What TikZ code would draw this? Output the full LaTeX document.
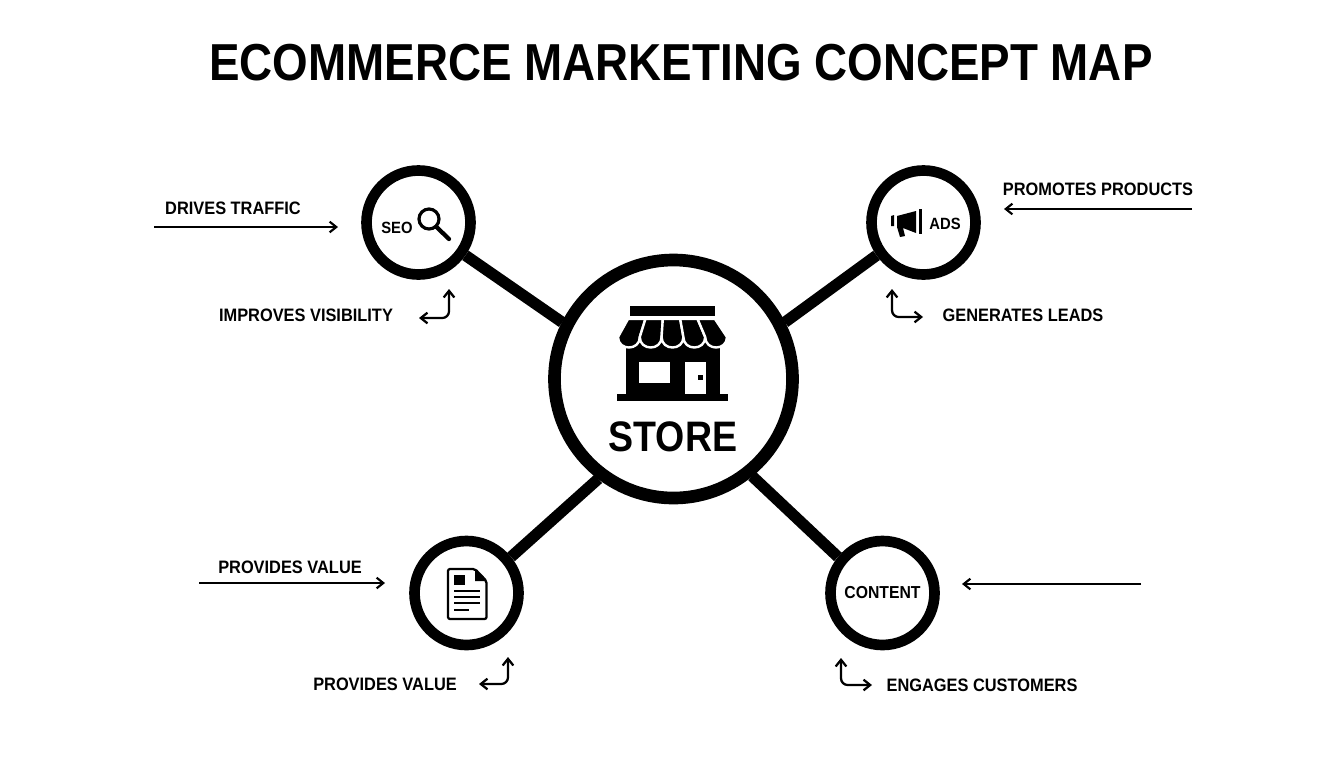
\documentclass[tikz,border=0pt]{standalone}
\usepackage{fontspec}
\setmainfont{Liberation Sans}
\newfontfamily\titlefont[FakeStretch=0.88]{Liberation Sans}
\newfontfamily\labfont[FakeStretch=0.91]{Liberation Sans}
\usetikzlibrary{arrows.meta,backgrounds}
\tikzset{
  hub/.style={circle,draw=black,line width=9.5pt,fill=white,minimum size=178.5pt,inner sep=0pt,outer sep=4.5pt},
  sat/.style={circle,draw=black,line width=8pt,fill=white,minimum size=78pt,inner sep=0pt,outer sep=4pt},
  link/.style={line width=8.5pt,black},
  lab/.style={font=\labfont\bfseries\fontsize{13.5}{15}\selectfont,inner sep=0pt,text=black},
  inlab/.style={font=\labfont\bfseries\fontsize{12.2}{14}\selectfont,inner sep=0pt,text=black},
  flow/.style={line width=1.6pt,-{Straight Barb[length=5pt,width=8pt]},black},
  elbow/.style={line width=1.7pt,{Straight Barb[length=5pt,width=8pt]}-{Straight Barb[length=5pt,width=8pt]},rounded corners=5pt,black},
  panel/.style={fill=black,draw=white,line width=1.8pt,line join=round}
}
\begin{document}
\begin{tikzpicture}[x=0.75pt,y=-0.75pt]
\useasboundingbox (0,0) rectangle (1344,768);
\node[font=\titlefont\bfseries\fontsize{39}{44}\selectfont,inner sep=0pt] (title) at (681,63) {ECOMMERCE MARKETING CONCEPT MAP};

\node[hub] (store) at (673.5,379) {};
\node[sat] (seo) at (418.5,222.5) {};
\node[sat] (ads) at (923.5,222.5) {};
\node[sat] (doc) at (466.5,593) {};
\node[sat] (content) at (882.5,593) {};

\begin{scope}[on background layer]
\fill[white] (0,0) rectangle (1344,768);
\draw[link] (seo.-35) -- (store.153);
\draw[link] (ads.215) -- (store.27);
\draw[link] (doc.39) -- (store.233);
\draw[link] (content.141) -- (store.309);
\end{scope}

% store icon
\fill[black] (630,306) rectangle (715,316);
\fill[black] (626,340) rectangle (720,396);
\fill[black] (617,394) rectangle (728,401);
\fill[white] (639,362) rectangle (670,383);
\fill[white] (685,362) rectangle (706,394);
\fill[black] (698,375) rectangle (702.5,380);
\foreach \i in {0,...,4}{
  \pgfmathsetmacro{\ta}{628+\i*17.4}
  \pgfmathsetmacro{\tb}{628+(\i+1)*17.4}
  \pgfmathsetmacro{\ba}{618+\i*21.8}
  \pgfmathsetmacro{\bb}{618+(\i+1)*21.8}
  \draw[panel] (\ta,319) -- (\ba,337) .. controls (\ba,351) and (\bb,351) .. (\bb,337) -- (\tb,319) -- cycle;
}
\node[font=\titlefont\bfseries\fontsize{32}{36}\selectfont,inner sep=0pt] (storelab) at (673,437) {STORE};

% seo
\node[inlab] (seolab) at (397,228) {SEO};
\draw[black,line width=2.4pt] (429,219) circle (10);
\draw[black,line width=3.2pt,line cap=round] (436.5,227) -- (449,239);

% ads
\node[inlab] (adslab) at (945,224) {ADS};
\fill[black] (891,216) -- (894,215) -- (894,226) -- (891,226) -- cycle;
\fill[black] (897,216) -- (916,211) -- (916,233) -- (903,228) -- (905,236) -- (900,237) -- (897,227) -- cycle;
\fill[black] (918.5,209) rectangle (921.5,234);

% doc icon
\draw[black,line width=1.7pt,line join=round,rounded corners=1.5pt] (448,569) -- (475,569) -- (486.5,581) -- (486.5,619) -- (448,619) -- cycle;
\fill[black] (475,569) -- (486.5,581) -- (475,581) -- cycle;
\fill[black] (454,575) rectangle (465,585);
\foreach \yy/\xe in {591/480,597/480,603/480,610/469}
  \draw[black,line width=2pt] (454,\yy) -- (\xe,\yy);

\node[font=\labfont\bfseries\fontsize{13}{15}\selectfont,inner sep=0pt] (contentlab) at (882.5,593) {CONTENT};

% labels
\node[lab] (l1) at (233,208) {DRIVES TRAFFIC};
\node[lab] (l2) at (306,315) {IMPROVES VISIBILITY};
\node[lab] (l3) at (1098,189) {PROMOTES PRODUCTS};
\node[lab] (l4) at (1023,315) {GENERATES LEADS};
\node[lab] (l5) at (290,567) {PROVIDES VALUE};
\node[lab] (l6) at (385,684) {PROVIDES VALUE};
\node[lab] (l7) at (982,685) {ENGAGES CUSTOMERS};

% arrow ends
\coordinate (a1s) at (154,227); \coordinate (a1e) at (338,227);
\coordinate (a3s) at (1192,209); \coordinate (a3e) at (1004,209);
\coordinate (a5s) at (199,583); \coordinate (a5e) at (385,583);
\coordinate (a7s) at (1141,584); \coordinate (a7e) at (962,584);
\draw[flow] (a1s) -- (a1e);
\draw[flow] (a3s) -- (a3e);
\draw[flow] (a5s) -- (a5e);
\draw[flow] (a7s) -- (a7e);

\coordinate (e1a) at (419,318); \coordinate (e1b) at (449,318); \coordinate (e1c) at (449,289);
\coordinate (e2a) at (892,289); \coordinate (e2b) at (892,317); \coordinate (e2c) at (923,317);
\coordinate (e3a) at (479,684); \coordinate (e3b) at (508,684); \coordinate (e3c) at (508,657);
\coordinate (e4a) at (841,658); \coordinate (e4b) at (841,685); \coordinate (e4c) at (872,685);
\draw[elbow] (e1a) -- (e1b) -- (e1c);
\draw[elbow] (e2a) -- (e2b) -- (e2c);
\draw[elbow] (e3a) -- (e3b) -- (e3c);
\draw[elbow] (e4a) -- (e4b) -- (e4c);
\end{tikzpicture}
\end{document}
